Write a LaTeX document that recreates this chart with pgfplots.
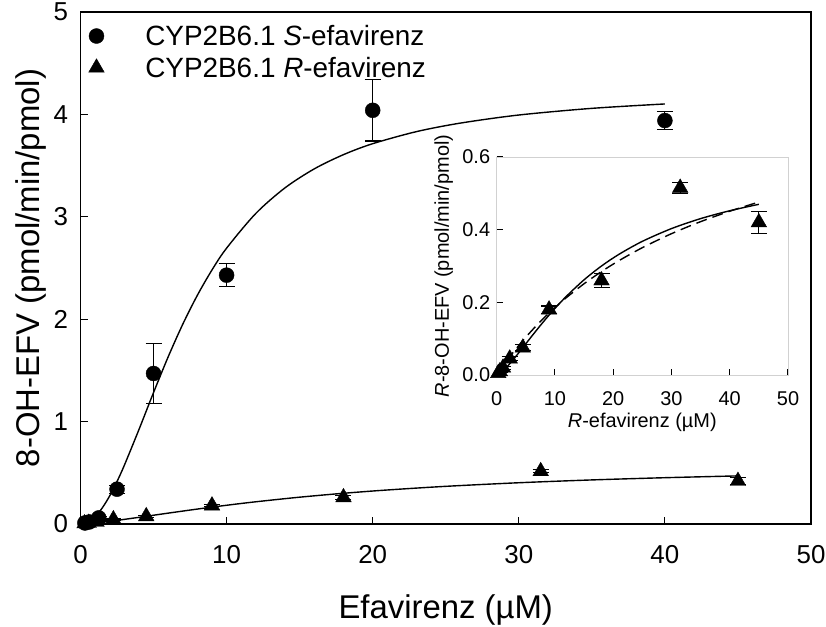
\documentclass[border=0pt]{standalone}
\usepackage{fontspec}
\setmainfont{Liberation Sans}
\usepackage{pgfplots}
\usepackage{pgfplotstable}
\pgfplotsset{compat=1.18}

\pgfplotstableread{
x y e
0.3 0.01 0.01
0.6 0.02 0.01
1.25 0.06 0.01
2.5 0.34 0.04
5 1.47 0.29
10 2.43 0.11
20 4.04 0.30
40 3.94 0.09
}\Sdata

\pgfplotstableread{
x y e
0.28 0.005 0.002
0.56 0.01 0.003
1.1 0.02 0.004
2.25 0.045 0.006
4.5 0.075 0.008
9 0.18 0.01
18 0.26 0.02
31.5 0.515 0.015
45 0.42 0.03
}\Rdata

\pgfplotstableread{
x y
0 0
0.5 0.0183
1 0.0723
1.5 0.159
2 0.275
2.5 0.415
3 0.573
4 0.922
5 1.284
6 1.632
7 1.951
8 2.234
9 2.481
10 2.694
12 3.033
14 3.283
16 3.468
18 3.607
20 3.714
23 3.832
26 3.915
30 3.994
35 4.059
40 4.102
}\Sfit

\pgfplotstableread{
x y
0 0
1 0.0103
2 0.0264
3 0.0452
4 0.0651
5 0.0856
6 0.1061
8 0.1459
10 0.183
12 0.217
15 0.2619
18 0.300
21 0.3322
25 0.3678
30 0.4029
35 0.4304
40 0.4521
45 0.4698
}\Rfit

\pgfplotstableread{
x y
0 0
2 0.0448
4 0.0851
6 0.1217
8 0.155
10 0.1854
12 0.2133
15 0.2511
18 0.2847
21 0.3148
25 0.3504
30 0.3889
35 0.4220
40 0.4507
44.5 0.4736
}\Rmm

\begin{document}
\begin{tikzpicture}
\begin{axis}[
  name=main, at={(0,0)}, anchor=south west,
  scale only axis, width=730.5bp, height=512bp,
  xmin=0, xmax=50, ymin=0, ymax=5,
  xtick={0,10,...,50}, ytick={0,1,...,5},
  xtick pos=bottom, ytick pos=left,
  tick align=inside, major tick length=7bp,
  axis line style={line width=1.2bp},
  every tick/.style={black, line width=1.1bp},
  /pgf/number format/assume math mode=true,
  ticklabel style={font=\fontsize{26}{30}\selectfont},
  xticklabel style={yshift=-18bp},
  yticklabel style={xshift=-9bp},
  xlabel={Efavirenz (µM)},
  ylabel={8-OH-EFV (pmol/min/pmol)},
  label style={font=\fontsize{33}{38}\selectfont},
  xlabel style={at={(axis description cs:0.5,0)}, anchor=base, yshift=-94bp},
  ylabel style={at={(axis description cs:0,0.5)}, anchor=center, yshift=49bp},
  legend style={draw=none, fill=none, at={(axis description cs:0,1)}, anchor=north west,
    xshift=8bp, yshift=-11bp, inner xsep=0pt, inner ysep=0pt,
    font=\fontsize{28}{33}\selectfont, row sep=6bp,
    /tikz/every odd column/.append style={column sep=39bp}},
  legend cell align=left,
]
\addplot[black, line width=1.4bp, smooth, forget plot] table {\Sfit};
\addplot[black, line width=1.4bp, smooth, forget plot] table {\Rfit};
\addplot[only marks, mark=*, mark size=7.5bp, black,
  error bars/.cd, y dir=both, y explicit,
  error bar style={line width=1.1bp, black},
  error mark options={rotate=90, mark size=8bp, line width=1.1bp, black}]
  table[x=x, y=y, y error=e] {\Sdata};
\addlegendentry{CYP2B6.1 \textit{S}-efavirenz}
\addplot[only marks, mark=triangle*, mark size=9bp, black,
  error bars/.cd, y dir=both, y explicit,
  error bar style={line width=1.1bp, black},
  error mark options={rotate=90, mark size=8bp, line width=1.1bp, black}]
  table[x=x, y=y, y error=e] {\Rdata};
\addlegendentry{CYP2B6.1 \textit{R}-efavirenz}
\end{axis}

\begin{axis}[
  at={(416.1bp,149bp)}, anchor=south west,
  scale only axis, width=291.4bp, height=218bp,
  xmin=0, xmax=50, ymin=0, ymax=0.6,
  xtick={0,10,...,50}, ytick={0,0.2,0.4,0.6},
  xtick pos=bottom, ytick pos=left,
  tick align=inside, major tick length=6bp,
  axis line style={draw=black!18, line width=0.8bp},
  every tick/.style={black, line width=1.1bp},
  axis background/.style={fill=white},
  /pgf/number format/assume math mode=true,
  yticklabel style={/pgf/number format/fixed, /pgf/number format/fixed zerofill, /pgf/number format/precision=1, xshift=-3bp},
  ticklabel style={font=\fontsize{20}{24}\selectfont},
  xticklabel style={yshift=-13bp},
  xlabel={\textit{R}-efavirenz (µM)},
  ylabel={\textit{R}-8-OH-EFV (pmol/min/pmol)},
  label style={font=\fontsize{20}{24}\selectfont},
  xlabel style={at={(axis description cs:0.5,0)}, anchor=center, yshift=-47bp},
  ylabel style={at={(axis description cs:0,0.5)}, anchor=center, yshift=53bp},
]
\addplot[black, line width=1.4bp, smooth] table {\Rfit};
\addplot[black, line width=1.4bp, smooth, dash pattern=on 11bp off 6bp] table {\Rmm};
\addplot[only marks, mark=triangle*, mark size=9bp, black,
  error bars/.cd, y dir=both, y explicit,
  error bar style={line width=1.1bp, black},
  error mark options={rotate=90, mark size=8bp, line width=1.1bp, black}]
  table[x=x, y=y, y error=e] {\Rdata};
\end{axis}
\pgfresetboundingbox
\path (-80.5bp,-103bp) rectangle (745.5bp,524bp);
\end{tikzpicture}
\end{document}
